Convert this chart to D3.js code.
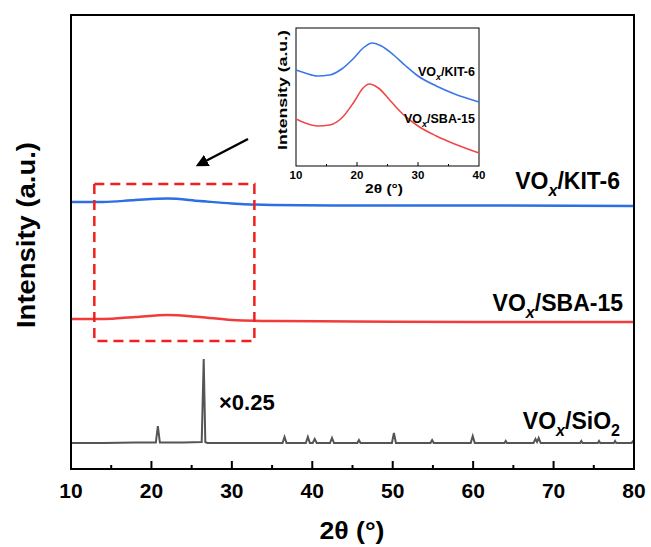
<!DOCTYPE html>
<html>
<head>
<meta charset="UTF-8">
<title>XRD patterns</title>
<script src="https://cdn.jsdelivr.net/npm/d3@7"></script>
<style>
	body { margin: 0; background: #fff; }
	svg { font-family: "Liberation Sans", Arial, sans-serif; font-weight: bold; }
</style>
</head>
<body>
<svg id="chart" width="651" height="547"></svg>
<script>
// main plot data (intensity in arbitrary units, offset stacked)
const xTicks = [10, 20, 30, 40, 50, 60, 70, 80];
const kitX = [10, 14, 18, 22, 26, 30, 35, 45, 60, 80];
const kitY = [267, 267, 269, 270.5, 268, 265.5, 264, 263.5, 263.5, 263];
const sbaX = [10, 14, 18, 22, 26, 30, 35, 45, 60, 80];
const sbaY = [150, 150, 152, 154, 152, 149, 148, 147.5, 147, 147];
const sioX = [10, 14, 18, 20.55, 20.8, 21.05, 24, 26.25, 26.5, 26.7, 26.95, 30, 36.3, 36.55, 36.8,
	39.2, 39.45, 39.7, 40.05, 40.3, 40.55, 42.2, 42.45, 42.7, 45.6, 45.8, 46.0, 49.9, 50.15, 50.4,
	54.7, 54.9, 55.1, 59.7, 59.95, 60.2, 63.9, 64.05, 64.2, 67.5, 67.75, 67.95, 68.15, 68.4,
	73.3, 73.45, 73.6, 75.5, 75.65, 75.8, 77.5, 77.65, 77.8, 79.7, 79.9, 80];
const sioY = [26, 26, 26.5, 26.5, 43, 26.5, 26.5, 27, 110, 27, 26, 26, 26, 32, 26,
	26, 32, 26, 26, 30, 26, 26, 31, 26, 26, 29, 26, 26, 36, 26,
	26, 29, 26, 26, 33, 26, 26, 28, 26, 26, 30, 27, 31, 26,
	26, 28, 26, 26, 28, 26, 26, 28, 26, 26, 28, 26];

// inset data
const insetTicks = [10, 20, 30, 40];
const inKitX = [10, 11.5, 13.5, 15.5, 17.5, 19.5, 21, 22.5, 24, 26, 28, 30, 33, 36, 40];
const inKitY = [70, 73, 76, 75, 69, 58, 48, 43, 46, 55, 66, 76, 86, 94, 102];
const inSbaX = [10, 11.5, 13.5, 15.5, 17.5, 19.5, 21, 22, 23.5, 25.5, 27.5, 30, 33, 36, 40];
const inSbaY = [119, 123, 126, 125, 118, 102, 88, 84, 88, 101, 114, 126, 136, 144, 153];

const svg = d3.select("#chart");
const m = { left: 71, right: 634, top: 15, bottom: 469 };

const x = d3.scaleLinear().domain([10, 80]).range([m.left, m.right]);
const y = d3.scaleLinear().domain([0, 454]).range([m.bottom, m.top]);

const line = d3.line().x(d => x(d[0])).y(d => y(d[1]));
const smooth = d3.line().x(d => x(d[0])).y(d => y(d[1])).curve(d3.curveMonotoneX);

// traces
svg.append("path").datum(d3.zip(sioX, sioY)).attr("d", line)
	.attr("fill", "none").attr("stroke", "#555").attr("stroke-width", 2);
svg.append("path").datum(d3.zip(sbaX, sbaY)).attr("d", smooth)
	.attr("fill", "none").attr("stroke", "#f23b3b").attr("stroke-width", 2.5);
svg.append("path").datum(d3.zip(kitX, kitY)).attr("d", smooth)
	.attr("fill", "none").attr("stroke", "#2b6fe3").attr("stroke-width", 2.5);

// frame
svg.append("rect").attr("x", m.left).attr("y", m.top)
	.attr("width", m.right - m.left).attr("height", m.bottom - m.top)
	.attr("fill", "none").attr("stroke", "#000").attr("stroke-width", 2);

// x axis ticks (inward)
const minor = d3.range(15, 80, 10);
svg.append("g").selectAll("line").data(xTicks.slice(1, -1)).join("line")
	.attr("x1", d => x(d)).attr("x2", d => x(d))
	.attr("y1", m.bottom).attr("y2", m.bottom - 8)
	.attr("stroke", "#000").attr("stroke-width", 2);
svg.append("g").selectAll("line").data(minor).join("line")
	.attr("x1", d => x(d)).attr("x2", d => x(d))
	.attr("y1", m.bottom).attr("y2", m.bottom - 4)
	.attr("stroke", "#000").attr("stroke-width", 2);
svg.append("g").selectAll("text").data(xTicks).join("text")
	.attr("x", d => x(d)).attr("y", 498)
	.attr("text-anchor", "middle").attr("font-size", 21)
	.text(d => d);

svg.append("text").attr("x", 352).attr("y", 539)
	.attr("text-anchor", "middle").attr("font-size", 23)
	.attr("textLength", 65).attr("lengthAdjust", "spacingAndGlyphs").text("2θ (°)");
svg.append("text").attr("transform", "translate(35,235) rotate(-90)")
	.attr("text-anchor", "middle").attr("font-size", 25)
	.attr("textLength", 186).attr("lengthAdjust", "spacingAndGlyphs").text("Intensity (a.u.)");

// series labels
function label(tx, ty, name, sub, size) {
	const t = svg.append("text").attr("x", tx).attr("y", ty)
		.attr("text-anchor", "end").attr("font-size", size);
	t.append("tspan").text("VO");
	t.append("tspan").text("x").attr("font-style", "italic")
		.attr("font-size", size * 0.7).attr("dy", size * 0.3);
	t.append("tspan").text(name).attr("dy", -size * 0.3);
	if (sub) t.append("tspan").text(sub).attr("font-size", size * 0.7).attr("dy", size * 0.3);
	return t;
}
label(620, 189, "/KIT-6", null, 23);
label(623, 311, "/SBA-15", null, 23);
label(620, 429, "/SiO", "2", 23);
svg.append("text").attr("x", 219).attr("y", 410).attr("font-size", 22).text("×0.25");

// dashed highlight box
svg.append("rect").attr("x", x(12.9)).attr("y", 184)
	.attr("width", x(32.8) - x(12.9)).attr("height", 157)
	.attr("fill", "none").attr("stroke", "#f02020").attr("stroke-width", 2.5)
	.attr("stroke-dasharray", "10,6");

// arrow
svg.append("defs").append("marker").attr("id", "head")
	.attr("viewBox", "0 0 10 10").attr("refX", 8).attr("refY", 5)
	.attr("markerWidth", 5).attr("markerHeight", 5).attr("orient", "auto")
	.append("path").attr("d", "M0,0L10,5L0,10z").attr("fill", "#000");
svg.append("line").attr("x1", 248).attr("y1", 139).attr("x2", 198).attr("y2", 165)
	.attr("stroke", "#000").attr("stroke-width", 2.5).attr("marker-end", "url(#head)");

// inset
const ix = d3.scaleLinear().domain([10, 40]).range([296, 479]);
const ipx = d3.line().x(d => ix(d[0])).y(d => d[1]).curve(d3.curveMonotoneX);
const inset = svg.append("g");
inset.append("rect").attr("x", 296).attr("y", 28).attr("width", 183).attr("height", 138)
	.attr("fill", "#fff").attr("stroke", "#000").attr("stroke-width", 1);
inset.append("path").datum(d3.zip(inKitX, inKitY)).attr("d", ipx)
	.attr("fill", "none").attr("stroke", "#3a78e6").attr("stroke-width", 1.6);
inset.append("path").datum(d3.zip(inSbaX, inSbaY)).attr("d", ipx)
	.attr("fill", "none").attr("stroke", "#f04848").attr("stroke-width", 1.6);
inset.selectAll(".it").data([15, 20, 25, 30, 35]).join("line")
	.attr("x1", d => ix(d)).attr("x2", d => ix(d))
	.attr("y1", 166).attr("y2", d => d % 10 === 0 ? 162 : 164)
	.attr("stroke", "#000").attr("stroke-width", 1);
inset.selectAll(".il").data(insetTicks).join("text")
	.attr("x", d => ix(d)).attr("y", 179).attr("text-anchor", "middle")
	.attr("font-size", 11.5).text(d => d);
inset.append("text").attr("x", 384).attr("y", 193).attr("text-anchor", "middle")
	.attr("font-size", 13).attr("textLength", 38).attr("lengthAdjust", "spacingAndGlyphs").text("2θ (°)");
inset.append("text").attr("transform", "translate(287,90) rotate(-90)")
	.attr("text-anchor", "middle").attr("font-size", 13)
	.attr("textLength", 120).attr("lengthAdjust", "spacingAndGlyphs").text("Intensity (a.u.)");
function ilabel(tx, ty, name) {
	const t = inset.append("text").attr("x", tx).attr("y", ty)
		.attr("text-anchor", "end").attr("font-size", 12.5);
	t.append("tspan").text("VO");
	t.append("tspan").text("x").attr("font-style", "italic").attr("font-size", 9).attr("dy", 3.5);
	t.append("tspan").text(name).attr("dy", -3.5);
}
ilabel(475, 76, "/KIT-6");
ilabel(475, 123, "/SBA-15");
</script>
</body>
</html>
